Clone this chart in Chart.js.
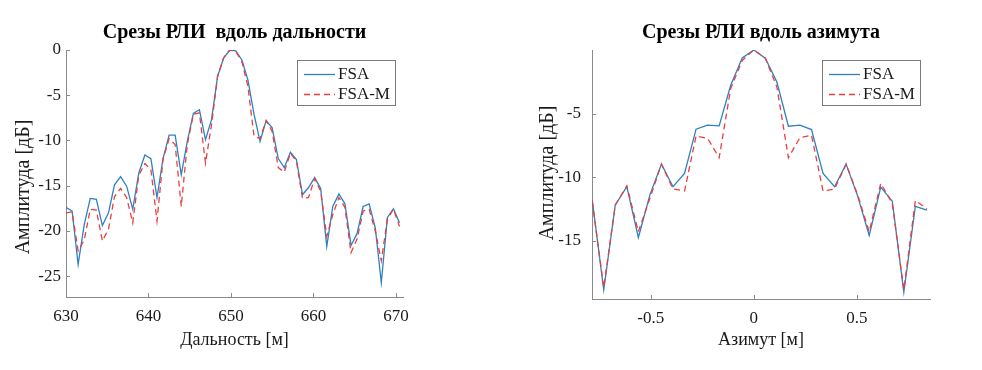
<!DOCTYPE html>
<html><head><meta charset="utf-8">
<script src="https://cdn.jsdelivr.net/npm/chart.js@4.4.1/dist/chart.umd.min.js"></script>
<style>
html,body{margin:0;padding:0;background:#fff;}
#wrap{position:relative;width:982px;height:370px;overflow:hidden;}
.c{position:absolute;top:0;width:491px;height:370px;}
</style></head><body>
<div id="wrap">
<div class="c" style="left:0"><canvas id="c1" width="491" height="370"></canvas></div>
<div class="c" style="left:491px"><canvas id="c2" width="491" height="370"></canvas></div>
</div>
<script>
// ---------- data ----------
const seriesNames = ['FSA', 'FSA-M'];

const rangeX = [630.00,630.74,631.47,632.21,632.94,633.68,634.41,635.15,635.88,636.62,
  637.35,638.09,638.82,639.56,640.29,641.03,641.76,642.50,643.23,643.97,
  644.70,645.44,646.17,646.91,647.64,648.38,649.11,649.85,650.58,651.32,
  652.05,652.79,653.52,654.26,654.99,655.73,656.46,657.20,657.93,658.67,
  659.40,660.14,660.87,661.61,662.34,663.08,663.81,664.55,665.28,666.02,
  666.75,667.49,668.22,668.96,669.69,670.43];
const rangeFSA = [-17.4,-17.8,-23.7,-19.3,-16.4,-16.5,-19.4,-18.0,-14.9,-14.0,
  -15.05,-17.6,-13.6,-11.6,-12.0,-16.3,-12.0,-9.4,-9.4,-13.8,
  -10.1,-7.0,-6.6,-9.9,-7.7,-2.9,-0.9,0,-0.1,-1.1,
  -3.3,-7.1,-10.1,-7.8,-8.6,-12.0,-13.0,-11.3,-12.1,-16.0,
  -15.2,-14.1,-15.3,-21.7,-17.3,-15.9,-17.0,-21.6,-20.3,-17.3,
  -17.0,-19.65,-25.7,-18.5,-17.55,-19.1];
const rangeFSAM = [-18.0,-17.9,-22.2,-21.0,-17.6,-17.7,-21.1,-19.8,-16.2,-15.3,
  -16.3,-19.1,-13.85,-12.55,-13.2,-18.9,-12.1,-9.8,-10.45,-17.3,
  -10.45,-7.1,-6.95,-12.5,-8.25,-2.9,-0.85,0,-0.15,-1.3,
  -4.0,-9.5,-9.8,-7.8,-9.0,-13.0,-13.5,-11.4,-12.3,-16.4,
  -16.3,-14.2,-15.6,-20.6,-18.2,-16.3,-17.4,-22.4,-20.9,-17.8,
  -17.6,-20.0,-23.3,-18.7,-17.6,-19.5];

const azX = [-0.784,-0.728,-0.672,-0.616,-0.560,-0.504,-0.448,-0.392,-0.336,-0.280,
  -0.224,-0.168,-0.112,-0.056,0,0.056,0.112,0.168,0.224,0.280,
  0.336,0.392,0.448,0.504,0.560,0.616,0.672,0.728,0.784,0.840];
const azFSA = [-11.8,-18.87,-12.2,-10.76,-14.76,-11.4,-8.98,-10.76,-9.71,-6.23,
  -5.92,-5.97,-2.78,-0.63,0,-0.65,-2.52,-6.0,-5.92,-6.26,
  -9.71,-10.76,-8.98,-11.5,-14.6,-10.8,-11.9,-19.07,-12.3,-12.6];
const azFSAM = [-11.9,-18.7,-12.2,-10.7,-14.3,-11.67,-8.98,-10.94,-11.1,-6.76,
  -6.96,-8.48,-3.04,-0.82,0,-0.65,-2.9,-8.48,-6.9,-6.7,
  -11.1,-10.94,-8.98,-11.4,-14.3,-10.5,-12.07,-18.87,-11.85,-12.5];

const rangeXTicks = [630, 640, 650, 660, 670];
const rangeYTicks = [0, -5, -10, -15, -20, -25];
const azXTicks = [-0.5, 0, 0.5];
const azYTicks = [-5, -10, -15];

const titleRange = 'Срезы РЛИ  вдоль дальности';
const titleAz = 'Срезы РЛИ вдоль азимута';
const xLabelRange = 'Дальность [м]';
const xLabelAz = 'Азимут [м]';
const yLabel = 'Амплитуда [дБ]';

// ---------- style ----------
const FONT = "'Liberation Serif', 'Times New Roman', serif";
const AXIS_COLOR = '#8a8a8a';
const TEXT_COLOR = '#1a1a1a';
const BLUE = '#2f80c0';
const RED = '#e8403f';

const inwardTicks = {
  id: 'inwardTicks',
  afterDraw(chart, args, opts) {
    const {ctx, chartArea: a, scales: {x, y}} = chart;
    ctx.save();
    ctx.strokeStyle = AXIS_COLOR; ctx.lineWidth = 1;
    ctx.beginPath();
    x.ticks.forEach(t => { const px = Math.round(x.getPixelForValue(t.value)) + 0.5; ctx.moveTo(px, a.bottom); ctx.lineTo(px, a.bottom - 4); });
    y.ticks.forEach(t => { const py = Math.round(y.getPixelForValue(t.value)) + 0.5; ctx.moveTo(a.left, py); ctx.lineTo(a.left + 4, py); });
    ctx.stroke();
    ctx.restore();
  }
};

const boxLegend = {
  id: 'boxLegend',
  afterDraw(chart, args, o) {
    const {ctx, chartArea: a} = chart;
    const x0 = Math.round(a.right - o.right - o.width), y0 = Math.round(a.top + o.top);
    ctx.save();
    ctx.fillStyle = '#fff';
    ctx.fillRect(x0, y0, o.width, o.height);
    ctx.strokeStyle = '#7a7a7a'; ctx.lineWidth = 1;
    ctx.strokeRect(x0 + 0.5, y0 + 0.5, o.width, o.height);
    chart.data.datasets.forEach((ds, i) => {
      const yy = y0 + o.rowTop + i * o.rowGap;
      ctx.strokeStyle = ds.borderColor; ctx.lineWidth = ds.borderWidth;
      ctx.setLineDash(ds.borderDash || []);
      ctx.beginPath(); ctx.moveTo(x0 + 7, yy + 0.5); ctx.lineTo(x0 + 38, yy + 0.5); ctx.stroke();
      ctx.setLineDash([]);
      ctx.fillStyle = TEXT_COLOR; ctx.font = '17px ' + FONT; ctx.textBaseline = 'middle'; ctx.textAlign = 'left';
      ctx.fillText(ds.label, x0 + 41, yy + 1);
    });
    ctx.restore();
  }
};

const yTitle = {
  id: 'yTitle',
  afterDraw(chart, args, o) {
    const {ctx} = chart;
    ctx.save();
    ctx.translate(o.x, o.y);
    ctx.rotate(-Math.PI / 2);
    ctx.fillStyle = TEXT_COLOR; ctx.font = '20px ' + FONT;
    ctx.textAlign = 'center'; ctx.textBaseline = 'middle';
    ctx.fillText(o.text, 0, 0);
    ctx.restore();
  }
};

function makeChart(id, cfg) {
  const toPts = (xs, ys) => xs.map((v, i) => ({x: v, y: ys[i]}));
  return new Chart(document.getElementById(id), {
    type: 'line',
    data: {
      datasets: [
        {label: seriesNames[0], data: toPts(cfg.x, cfg.s1), borderColor: BLUE, borderWidth: 1.3, pointRadius: 0, tension: 0, fill: false, order: 2},
        {label: seriesNames[1], data: toPts(cfg.x, cfg.s2), borderColor: RED, borderWidth: 1.3, borderDash: [6, 4], pointRadius: 0, tension: 0, fill: false, order: 1}
      ]
    },
    options: {
      responsive: false, animation: false, devicePixelRatio: 1,
      layout: {padding: {left: 0, right: cfg.padRight, top: 0, bottom: 0}},
      plugins: {
        legend: {display: false},
        tooltip: {enabled: false},
        title: {display: true, text: cfg.title, fullSize: false, color: '#000',
          font: {family: FONT, size: 20, weight: 'bold'}, padding: {top: 21, bottom: 5}},
        boxLegend: {width: 98, height: 45, right: cfg.legRight, top: 10, rowTop: 14, rowGap: 20},
        yTitle: {text: yLabel, x: cfg.yTitleX, y: cfg.yTitleY}
      },
      scales: {
        x: {
          type: 'linear', min: cfg.xMin, max: cfg.xMax,
          afterBuildTicks: s => { s.ticks = cfg.xTicks.map(v => ({value: v})); },
          afterFit: s => { s.height = cfg.xAxisH; },
          ticks: {color: TEXT_COLOR, font: {family: FONT, size: 17}, padding: 9, maxRotation: 0, autoSkip: false, callback: v => String(v)},
          grid: {display: false, drawTicks: false},
          border: {display: true, color: AXIS_COLOR, width: 1},
          title: {display: true, text: cfg.xLabel, color: TEXT_COLOR, font: {family: FONT, size: 18}, padding: {top: 4, bottom: 19}}
        },
        y: {
          type: 'linear', min: cfg.yMin, max: 0,
          afterBuildTicks: s => { s.ticks = cfg.yTicks.map(v => ({value: v})); },
          afterFit: s => { s.width = cfg.yAxisW; },
          ticks: {color: TEXT_COLOR, font: {family: FONT, size: 17}, padding: cfg.yTickPad, autoSkip: false, callback: v => String(v)},
          grid: {display: false, drawTicks: false},
          border: {display: true, color: AXIS_COLOR, width: 1}
        }
      }
    },
    plugins: [inwardTicks, yTitle, boxLegend]
  });
}

makeChart('c1', {x: rangeX, s1: rangeFSA, s2: rangeFSAM, title: titleRange, xLabel: xLabelRange,
  xMin: 630, xMax: 670.85, yMin: -27.3, xTicks: rangeXTicks, yTicks: rangeYTicks,
  padRight: 88, xAxisH: 73, yAxisW: 66, yTickPad: 5, legRight: 8, yTitleX: 24, yTitleY: 187});
makeChart('c2', {x: azX, s1: azFSA, s2: azFSAM, title: titleAz, xLabel: xLabelAz,
  xMin: -0.785, xMax: 0.855, yMin: -19.6, xTicks: azXTicks, yTicks: azYTicks,
  padRight: 52, xAxisH: 71, yAxisW: 101, yTickPad: 11, legRight: 10, yTitleX: 57, yTitleY: 173});
</script>
</body></html>
